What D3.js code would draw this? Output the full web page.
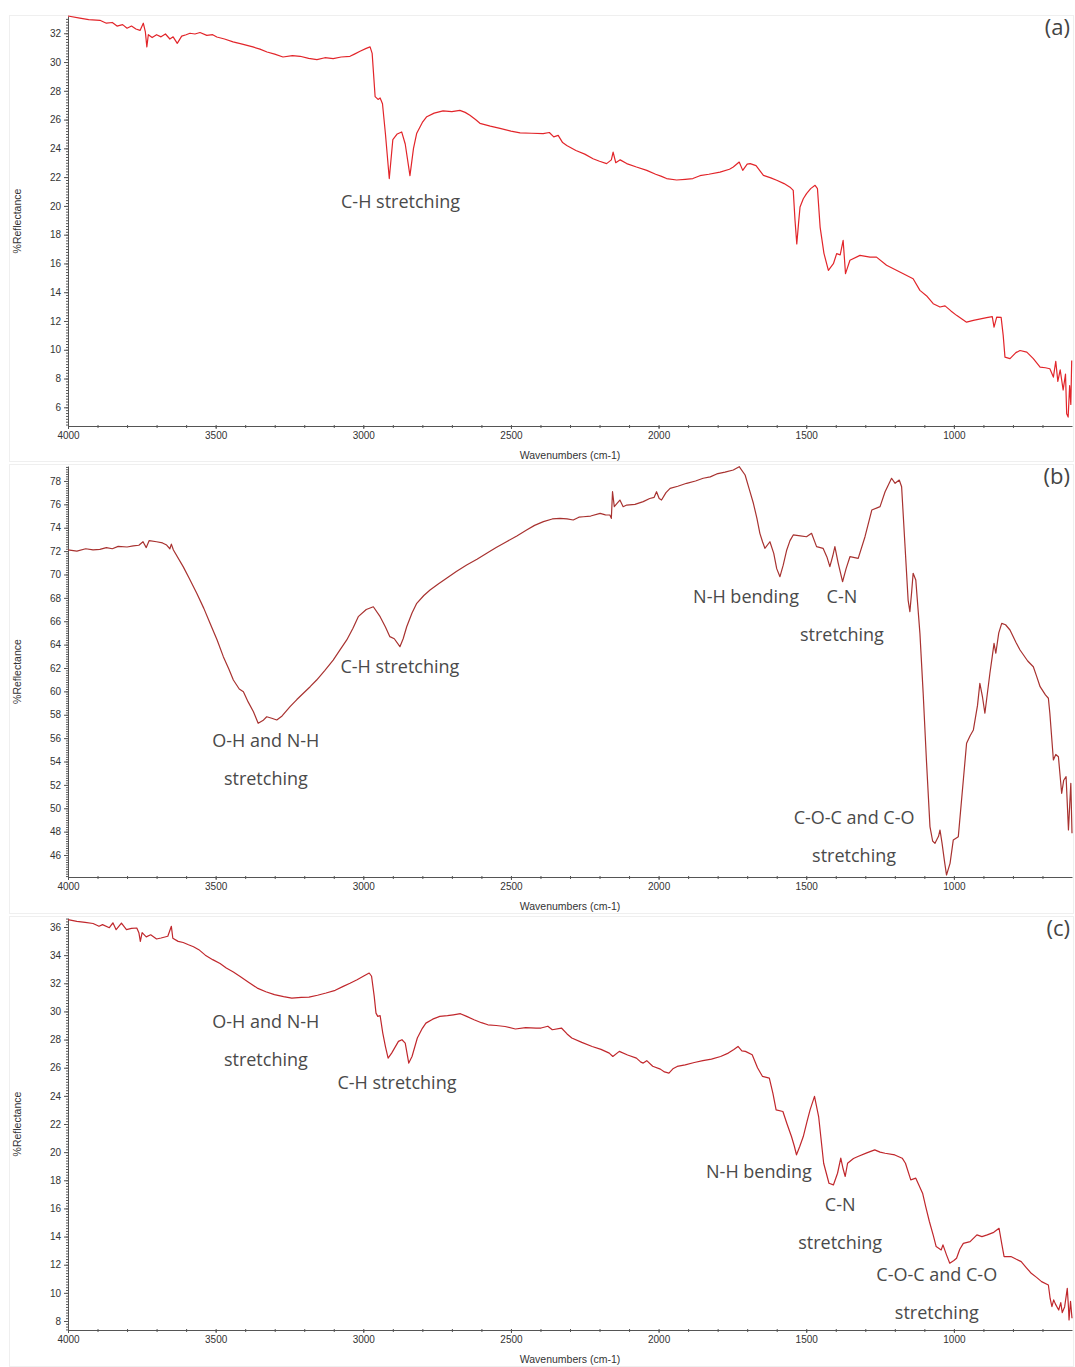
<!DOCTYPE html>
<html>
<head>
<meta charset="utf-8">
<script src="https://cdn.jsdelivr.net/npm/d3@7"></script>
<style>
  body { margin: 0; background: #fff; }
</style>
</head>
<body>
<svg id="chart" width="1075" height="1367"></svg>
<script>
(function() {

// ---- data: [wavenumber, %R] ----
const spectrumA = [
  [4000, 33.2], [3960, 33.05], [3930, 32.95], [3892, 32.9], [3870, 32.7], [3850, 32.75],
  [3834, 32.5], [3815, 32.6], [3800, 32.35], [3785, 32.5], [3770, 32.3], [3756, 32.2],
  [3745, 32.7], [3738, 32.1], [3733, 31.05], [3728, 31.9], [3715, 31.7], [3700, 31.9],
  [3685, 31.75], [3670, 31.95], [3655, 31.6], [3644, 31.75], [3630, 31.3], [3615, 31.8],
  [3600, 31.9], [3587, 32.0], [3570, 31.95], [3553, 32.05], [3530, 31.85], [3510, 31.9],
  [3496, 31.74], [3470, 31.6], [3441, 31.4], [3410, 31.25], [3374, 31.05], [3350, 30.9],
  [3326, 30.7], [3300, 30.55], [3272, 30.35], [3240, 30.45], [3214, 30.4], [3185, 30.25],
  [3157, 30.17], [3130, 30.3], [3102, 30.24], [3075, 30.35], [3045, 30.4], [3030, 30.55],
  [3011, 30.75], [2990, 30.95], [2977, 31.05], [2970, 30.6], [2960, 27.6], [2950, 27.4],
  [2943, 27.5], [2935, 27.1], [2925, 25.0], [2912, 21.9], [2900, 24.6], [2885, 25.0],
  [2870, 25.14], [2858, 24.3], [2842, 22.1], [2830, 24.0], [2819, 25.05], [2800, 25.8],
  [2785, 26.2], [2760, 26.45], [2730, 26.6], [2700, 26.55], [2673, 26.64], [2655, 26.5],
  [2639, 26.3], [2620, 26.0], [2605, 25.74], [2570, 25.55], [2537, 25.39], [2500, 25.2],
  [2469, 25.07], [2430, 25.05], [2391, 25.02], [2370, 25.1], [2355, 24.8], [2340, 24.9],
  [2325, 24.4], [2311, 24.2], [2280, 23.85], [2250, 23.6], [2222, 23.28], [2200, 23.1],
  [2176, 22.94], [2160, 23.2], [2154, 23.74], [2145, 23.0], [2130, 23.2], [2108, 22.94],
  [2075, 22.7], [2040, 22.47], [2010, 22.2], [1990, 22.05], [1973, 21.9], [1939, 21.8],
  [1910, 21.85], [1884, 21.9], [1860, 22.1], [1830, 22.2], [1792, 22.35], [1760, 22.55],
  [1747, 22.7], [1727, 23.05], [1715, 22.47], [1700, 22.9], [1690, 22.94], [1670, 22.8],
  [1645, 22.12], [1620, 21.95], [1600, 21.78], [1575, 21.55], [1555, 21.3], [1544, 21.08],
  [1538, 19.0], [1532, 17.35], [1526, 18.8], [1521, 19.92], [1510, 20.5], [1499, 20.85],
  [1485, 21.2], [1470, 21.43], [1462, 21.2], [1453, 18.53], [1440, 16.7], [1425, 15.52],
  [1408, 15.98], [1397, 16.68], [1385, 16.6], [1375, 17.6], [1367, 15.29], [1352, 16.22],
  [1318, 16.56], [1284, 16.44], [1262, 16.44], [1228, 15.87], [1183, 15.4], [1138, 14.94],
  [1115, 14.13], [1090, 13.7], [1070, 13.2], [1047, 12.97], [1030, 13.05], [1010, 12.7],
  [991, 12.39], [957, 11.92], [934, 12.04], [889, 12.23], [870, 12.3], [864, 11.57],
  [855, 12.27], [840, 12.25], [833, 11.0], [827, 9.49], [810, 9.38], [790, 9.8],
  [776, 9.95], [753, 9.84], [731, 9.38], [708, 8.79], [690, 8.75], [675, 8.68],
  [663, 8.1], [655, 9.2], [648, 7.8], [640, 8.6], [630, 7.2], [622, 8.3],
  [618, 5.55], [613, 5.32], [608, 7.5], [604, 6.2], [601, 9.26]
];

const spectrumB = [
  [4000, 72.1], [3970, 72.0], [3940, 72.2], [3915, 72.1], [3892, 72.15], [3870, 72.3],
  [3850, 72.2], [3830, 72.4], [3800, 72.35], [3779, 72.44], [3760, 72.5], [3746, 72.8],
  [3735, 72.3], [3725, 72.9], [3700, 72.8], [3680, 72.7], [3666, 72.52], [3655, 72.2],
  [3650, 72.6], [3643, 72.1], [3610, 70.67], [3590, 69.7], [3564, 68.39], [3540, 67.1],
  [3519, 65.82], [3495, 64.4], [3474, 62.97], [3455, 61.9], [3440, 60.97], [3420, 60.2],
  [3406, 59.97], [3390, 59.1], [3372, 58.26], [3356, 57.27], [3340, 57.5], [3327, 57.83],
  [3310, 57.7], [3293, 57.55], [3275, 57.9], [3248, 58.69], [3225, 59.3], [3203, 59.84],
  [3180, 60.4], [3158, 60.97], [3130, 61.8], [3102, 62.68], [3080, 63.5], [3056, 64.4],
  [3035, 65.4], [3017, 66.39], [2990, 67.0], [2966, 67.24], [2943, 66.39], [2925, 65.5],
  [2910, 64.68], [2895, 64.5], [2876, 63.82], [2865, 64.5], [2853, 65.53], [2835, 66.7],
  [2819, 67.53], [2795, 68.2], [2774, 68.67], [2745, 69.2], [2718, 69.67], [2685, 70.25],
  [2650, 70.81], [2615, 71.3], [2582, 71.81], [2550, 72.3], [2515, 72.8], [2480, 73.3],
  [2447, 73.8], [2420, 74.2], [2390, 74.52], [2360, 74.75], [2334, 74.8], [2310, 74.75],
  [2289, 74.66], [2270, 74.9], [2255, 74.94], [2230, 75.0], [2198, 75.23], [2180, 75.1],
  [2165, 75.09], [2160, 74.8], [2156, 77.08], [2150, 75.8], [2140, 76.1], [2131, 76.37],
  [2120, 75.8], [2108, 75.94], [2080, 76.0], [2052, 76.23], [2030, 76.5], [2015, 76.6],
  [2007, 77.08], [1998, 76.5], [1990, 76.37], [1975, 77.0], [1961, 77.37], [1935, 77.55],
  [1905, 77.8], [1875, 78.0], [1849, 78.23], [1825, 78.35], [1803, 78.6], [1775, 78.75],
  [1747, 78.94], [1727, 79.22], [1707, 78.51], [1693, 77.3], [1679, 76.09], [1667, 74.8],
  [1657, 73.52], [1648, 72.8], [1640, 72.24], [1623, 72.8], [1610, 71.8], [1600, 70.5],
  [1589, 69.81], [1578, 70.8], [1566, 72.1], [1555, 72.9], [1544, 73.38], [1520, 73.3],
  [1499, 73.23], [1482, 73.52], [1465, 72.38], [1443, 72.24], [1430, 71.5], [1420, 70.67],
  [1410, 71.6], [1403, 72.38], [1392, 71.0], [1377, 69.38], [1365, 70.5], [1352, 71.52],
  [1324, 71.38], [1301, 73.23], [1278, 75.51], [1250, 75.8], [1233, 77.08], [1211, 78.23],
  [1199, 77.8], [1185, 78.08], [1177, 77.51], [1166, 72.67], [1155, 67.81], [1149, 66.82],
  [1143, 68.5], [1138, 70.1], [1129, 69.53], [1115, 64.96], [1104, 59.84], [1093, 54.13],
  [1081, 48.43], [1072, 47.2], [1064, 47.0], [1052, 47.6], [1047, 48.14], [1040, 47.0],
  [1032, 45.5], [1025, 44.29], [1013, 45.29], [1002, 47.29], [985, 47.57], [968, 52.42],
  [957, 55.56], [945, 56.2], [934, 56.7], [920, 58.8], [912, 60.69], [903, 59.5],
  [895, 58.13], [878, 61.55], [870, 63.0], [864, 64.11], [858, 63.26], [848, 65.0],
  [838, 65.82], [825, 65.7], [810, 65.25], [790, 64.2], [776, 63.54], [750, 62.6],
  [731, 62.11], [720, 61.3], [708, 60.4], [690, 59.7], [680, 59.41], [675, 58.13],
  [663, 54.13], [655, 54.6], [646, 54.41], [635, 51.28], [628, 52.4], [620, 52.7],
  [612, 48.14], [604, 52.13], [600, 47.86]
];

const spectrumC = [
  [4000, 36.52], [3970, 36.4], [3942, 36.33], [3915, 36.25], [3895, 36.05], [3883, 36.17],
  [3860, 35.95], [3848, 36.3], [3837, 35.81], [3819, 36.28], [3802, 35.81], [3785, 35.9],
  [3767, 35.93], [3760, 35.6], [3755, 34.98], [3749, 35.6], [3735, 35.3], [3720, 35.45],
  [3700, 35.15], [3685, 35.22], [3662, 35.34], [3650, 36.05], [3645, 35.2], [3627, 34.98],
  [3610, 34.9], [3592, 34.74], [3575, 34.6], [3557, 34.39], [3535, 34.0], [3510, 33.68],
  [3485, 33.4], [3464, 33.08], [3440, 32.8], [3417, 32.49], [3390, 32.1], [3359, 31.66],
  [3330, 31.4], [3301, 31.19], [3270, 31.05], [3242, 30.95], [3210, 31.0], [3184, 31.02],
  [3155, 31.15], [3126, 31.31], [3095, 31.5], [3068, 31.78], [3045, 32.0], [3021, 32.25],
  [3000, 32.5], [2980, 32.73], [2972, 32.5], [2963, 31.07], [2957, 29.88], [2951, 29.65],
  [2943, 29.7], [2934, 28.46], [2925, 27.5], [2916, 26.68], [2904, 27.04], [2881, 27.87],
  [2869, 27.99], [2858, 27.75], [2846, 26.33], [2835, 26.8], [2817, 28.11], [2800, 28.8],
  [2788, 29.17], [2765, 29.45], [2741, 29.65], [2715, 29.7], [2695, 29.76], [2671, 29.84],
  [2650, 29.65], [2625, 29.41], [2600, 29.2], [2578, 29.05], [2550, 29.0], [2520, 28.93],
  [2485, 28.75], [2450, 28.85], [2415, 28.82], [2398, 28.82], [2375, 28.95], [2360, 28.7],
  [2329, 28.82], [2310, 28.4], [2294, 28.11], [2260, 27.8], [2225, 27.51], [2195, 27.3],
  [2167, 27.04], [2155, 26.8], [2133, 27.16], [2105, 26.9], [2075, 26.68], [2060, 26.4],
  [2052, 26.33], [2040, 26.5], [2020, 26.1], [1994, 25.9], [1980, 25.7], [1965, 25.62],
  [1950, 25.95], [1937, 26.09], [1910, 26.2], [1879, 26.37], [1850, 26.5], [1821, 26.61],
  [1790, 26.8], [1764, 27.04], [1745, 27.3], [1731, 27.51], [1718, 27.2], [1706, 27.16],
  [1683, 26.92], [1665, 26.0], [1648, 25.38], [1625, 25.26], [1613, 24.2], [1602, 23.0],
  [1579, 22.89], [1565, 22.0], [1550, 21.11], [1540, 20.4], [1533, 19.81], [1522, 20.4],
  [1510, 21.11], [1497, 22.2], [1487, 23.0], [1472, 23.96], [1458, 22.53], [1441, 19.21],
  [1423, 17.79], [1408, 17.67], [1394, 18.5], [1383, 19.57], [1375, 18.8], [1368, 18.27],
  [1360, 19.21], [1340, 19.55], [1325, 19.69], [1295, 19.95], [1268, 20.16], [1250, 20.0],
  [1233, 19.92], [1200, 19.8], [1175, 19.57], [1164, 19.21], [1146, 18.03], [1129, 18.15],
  [1106, 17.08], [1095, 16.1], [1083, 15.07], [1070, 14.1], [1060, 13.29], [1043, 13.05],
  [1037, 13.41], [1025, 12.7], [1014, 12.11], [1000, 12.3], [991, 12.46], [980, 13.1],
  [968, 13.52], [945, 13.64], [922, 14.12], [905, 14.0], [887, 14.12], [865, 14.3],
  [847, 14.59], [838, 13.5], [830, 12.58], [807, 12.58], [790, 12.4], [772, 12.22],
  [755, 11.8], [738, 11.39], [720, 11.1], [703, 10.8], [680, 10.56], [674, 9.6],
  [668, 9.02], [662, 9.5], [656, 9.2], [645, 8.78], [638, 9.3], [633, 8.6],
  [625, 9.0], [616, 10.32], [612, 9.0], [610, 8.07], [605, 9.4], [600, 8.2]
];

// tick labels
const xTicks = [4000, 3500, 3000, 2500, 2000, 1500, 1000];
const yTicksA = [6, 8, 10, 12, 14, 16, 18, 20, 22, 24, 26, 28, 30, 32];
const yTicksB = [46, 48, 50, 52, 54, 56, 58, 60, 62, 64, 66, 68, 70, 72, 74, 76, 78];
const yTicksC = [8, 10, 12, 14, 16, 18, 20, 22, 24, 26, 28, 30, 32, 34, 36];

// band assignments, placed at [wavenumber, %R]
const notesA = [
  { lines: ["C-H stretching"], at: [2874, 20.3] }
];
const notesB = [
  { lines: ["O-H and N-H", "stretching"], at: [3330, 55.8] },
  { lines: ["C-H stretching"], at: [2876, 62.1] },
  { lines: ["N-H bending"], at: [1704, 68.1] },
  { lines: ["C-N", "stretching"], at: [1379, 68.1] },
  { lines: ["C-O-C and C-O", "stretching"], at: [1338, 49.2] }
];
const notesC = [
  { lines: ["O-H and N-H", "stretching"], at: [3330, 29.3] },
  { lines: ["C-H stretching"], at: [2886, 24.9] },
  { lines: ["N-H bending"], at: [1660, 18.6] },
  { lines: ["C-N", "stretching"], at: [1385, 16.25] },
  { lines: ["C-O-C and C-O", "stretching"], at: [1058, 11.3] }
];

const panels = [
  { tag: "(a)", data: spectrumA, yTicks: yTicksA, yDomain: [4.7, 33.2], top: 16, bottom: 426,
    frame: [15, 461], color: "#e2252a", notes: notesA },
  { tag: "(b)", data: spectrumB, yTicks: yTicksB, yDomain: [44.12, 79.28], top: 466, bottom: 877,
    frame: [464, 913], color: "#a83230", notes: notesB },
  { tag: "(c)", data: spectrumC, yTicks: yTicksC, yDomain: [7.36, 36.64], top: 918, bottom: 1330,
    frame: [916, 1366], color: "#c0272c", notes: notesC }
];

const left = 68, right = 1072;
const axisColor = "#555";
const svg = d3.select("#chart");

panels.forEach(drawPanel);

function drawPanel(p) {
    const g = svg.append("g");

    // faint frame of the instrument plot
    g.append("rect")
        .attr("x", 9.5).attr("y", p.frame[0] + 0.5)
        .attr("width", 1064).attr("height", p.frame[1] - p.frame[0])
        .attr("fill", "none").attr("stroke", "#efefef");

    const x = d3.scaleLinear().domain([4000, 600]).range([left, right]);
    const y = d3.scaleLinear().domain(p.yDomain).range([p.bottom, p.top]);

    // minor ticks
    g.append("g")
        .attr("transform", `translate(0,${p.bottom - 1})`)
        .call(d3.axisBottom(x).tickValues(d3.range(4000, 600, -100)).tickSize(3).tickFormat(""))
        .call(a => a.select(".domain").remove())
        .call(a => a.selectAll("line").attr("stroke", axisColor));
    g.append("g")
        .attr("transform", `translate(${left},0)`)
        .call(d3.axisLeft(y).tickValues(d3.range(Math.ceil(p.yDomain[0] * 5) / 5, p.yDomain[1], 0.2)).tickSize(2).tickFormat(""))
        .call(a => a.select(".domain").remove())
        .call(a => a.selectAll("line").attr("stroke", axisColor));

    // X-axis
    g.append("g")
        .attr("transform", `translate(0,${p.bottom})`)
        .call(d3.axisBottom(x).tickValues(xTicks).tickFormat(d3.format("d"))
            .tickSize(3).tickSizeOuter(0).tickPadding(3))
        .call(a => a.select(".domain").attr("stroke", axisColor))
        .call(a => a.selectAll("line").attr("stroke", axisColor))
        .call(a => a.selectAll("text")
            .attr("font-family", "'Liberation Sans', Arial, sans-serif")
            .attr("font-size", "10px").attr("fill", "#333"));

    // Y-axis
    g.append("g")
        .attr("transform", `translate(${left},0)`)
        .call(d3.axisLeft(y).tickValues(p.yTicks).tickFormat(d3.format("d"))
            .tickSize(4).tickSizeOuter(0).tickPadding(3))
        .call(a => a.select(".domain").attr("stroke", axisColor))
        .call(a => a.selectAll("line").attr("stroke", axisColor))
        .call(a => a.selectAll("text")
            .attr("font-family", "'Liberation Sans', Arial, sans-serif")
            .attr("font-size", "10px").attr("fill", "#333"));

    // spectrum
    const line = d3.line().x(d => x(d[0])).y(d => y(d[1]));
    g.append("path")
        .datum(p.data)
        .attr("d", line)
        .attr("fill", "none")
        .attr("stroke", p.color)
        .attr("stroke-width", 1.2)
        .attr("stroke-linejoin", "round");

    // axis titles
    g.append("text")
        .attr("x", 570).attr("y", p.bottom + 29)
        .attr("dy", "0.35em")
        .attr("text-anchor", "middle")
        .attr("font-family", "'Liberation Sans', Arial, sans-serif")
        .attr("font-size", "10.5px").attr("fill", "#333")
        .text("Wavenumbers (cm-1)");

    g.append("text")
        .attr("transform", `translate(17,${(p.top + p.bottom) / 2}) rotate(-90)`)
        .attr("dy", "0.35em")
        .attr("text-anchor", "middle")
        .attr("font-family", "'Liberation Sans', Arial, sans-serif")
        .attr("font-size", "10.5px").attr("fill", "#333")
        .text("%Reflectance");

    // panel tag
    g.append("text")
        .attr("x", 1070).attr("y", p.frame[0] + 12)
        .attr("dy", "0.35em")
        .attr("text-anchor", "end")
        .attr("font-family", "'Open Sans', sans-serif")
        .attr("font-size", "22px").attr("fill", "#444")
        .text(p.tag);

    // annotations
    p.notes.forEach(n => {
        const t = g.append("text")
            .attr("text-anchor", "middle")
            .attr("font-family", "'Open Sans', sans-serif")
            .attr("font-size", "18px").attr("fill", "#4a4a4a");
        n.lines.forEach((s, i) => {
            t.append("tspan")
                .attr("x", x(n.at[0]))
                .attr("y", y(n.at[1]) + i * 38)
                .attr("dy", "0.35em")
                .text(s);
        });
    });
}

})();
</script>
</body>
</html>
